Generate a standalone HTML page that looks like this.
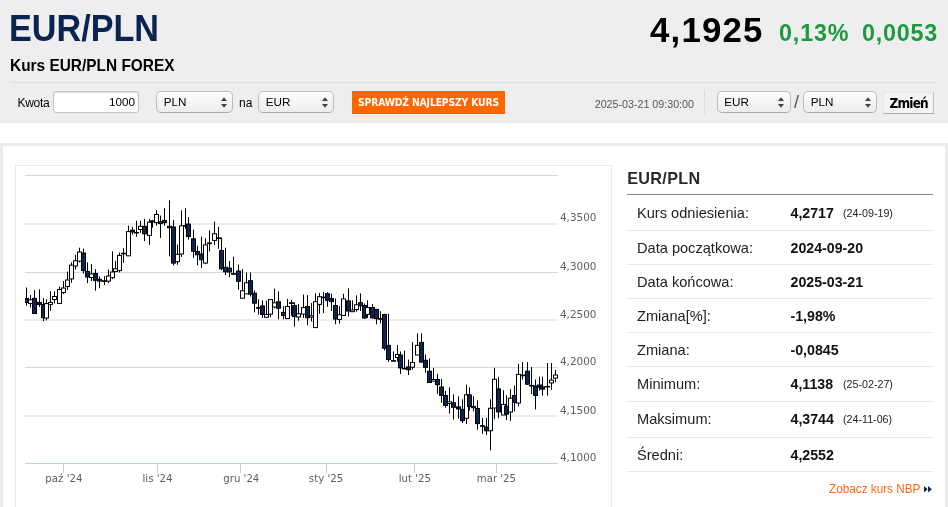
<!DOCTYPE html>
<html lang="pl">
<head>
<meta charset="utf-8">
<title>EUR/PLN - Kurs EUR/PLN FOREX</title>
<style>
html,body{margin:0;padding:0;}
body{width:948px;height:507px;overflow:hidden;background:#fff;position:relative;will-change:transform;font-family:"Liberation Sans",Arial,sans-serif;color:#000;}
.abs{position:absolute;white-space:nowrap;}
#hdr{position:absolute;left:0;top:0;width:948px;height:123px;background:#eee;}
#h1{left:8.7px;top:7.3px;font-size:36.3px;line-height:44px;font-weight:bold;color:#0a2350;transform-origin:0 0;transform:scaleX(.9415);}
#h2{left:9.9px;top:54.9px;font-size:16.5px;line-height:20px;font-weight:bold;color:#000;transform-origin:0 0;transform:scaleX(.935);}
#price{left:650px;top:7.5px;font-size:34.8px;line-height:44px;font-weight:bold;letter-spacing:1.2px;}
#chg1{left:779px;top:18.1px;font-size:23.3px;line-height:30px;font-weight:bold;color:#1b9a3e;letter-spacing:.85px;}
#chg2{left:862px;top:18.1px;font-size:23.3px;line-height:30px;font-weight:bold;color:#1b9a3e;letter-spacing:.8px;}
#hr{left:10px;top:82px;width:928px;height:1px;background:#ddd;}
.lbl{font-size:12px;line-height:14px;color:#000;}
.inp{box-sizing:border-box;background:#fff;border:1px solid #c4c4c4;border-radius:3px;box-shadow:inset 0 1px 1px rgba(0,0,0,.12);font-size:11.7px;line-height:20px;text-align:right;padding-right:3.2px;}
.sel{box-sizing:border-box;border:1px solid #bdbdbd;border-radius:5px;background:linear-gradient(#fdfdfd,#ececec);font-size:11.7px;line-height:20.6px;padding-left:6.7px;color:#000;border-bottom-color:#acacac;}
.sel svg{position:absolute;right:4.5px;top:5.3px;}
#btn{left:352px;top:90.5px;width:153px;height:23px;background:#ff6600;color:#fff;font-family:"DejaVu Sans Condensed","DejaVu Sans",sans-serif;font-stretch:condensed;font-size:10.3px;font-weight:bold;line-height:23px;text-align:center;letter-spacing:-.15px;}
#date{left:594.7px;top:97px;font-size:10.7px;line-height:14px;color:#555;}
#vsep{left:704px;top:90px;width:1px;height:25px;background:#ddd;}
#zm{left:883.2px;top:92px;width:51px;height:22px;box-sizing:border-box;background:#f4f4f4;border:1px solid #e6e6e6;border-right-color:#bbb;border-bottom-color:#aaa;font-family:"DejaVu Sans Condensed","DejaVu Sans",sans-serif;font-stretch:condensed;font-weight:bold;font-size:13.5px;letter-spacing:-.78px;line-height:20.5px;text-align:center;color:#000;}
#panel{position:absolute;left:0;top:143px;width:948px;height:380px;box-sizing:border-box;border:3px solid #ececec;background:#fff;}
#cbox{position:absolute;left:15px;top:165px;width:597px;height:360px;box-sizing:border-box;border:1px solid #e7ebee;background:#fff;}
#chart{position:absolute;left:0;top:143px;}
#chart text{font-family:"DejaVu Sans",Verdana,sans-serif;font-size:10.2px;fill:#5e5e5e;}
#chart .yl text{font-size:10.4px;}
#t2{left:627.2px;top:168px;font-size:16.2px;line-height:20px;font-weight:bold;color:#2a2a2e;letter-spacing:.32px;}
#t2line{left:627px;top:194px;width:306px;height:1px;background:#8a8a8a;}
.row{position:absolute;left:627px;width:306px;height:34px;border-bottom:1px solid #e6e6e6;}
.row .k{position:absolute;left:10px;top:8.5px;font-size:14.6px;line-height:18px;color:#222;}
.row .v{position:absolute;left:163.5px;top:8.5px;font-size:14.2px;line-height:18px;font-weight:bold;color:#111;}
.row .s{position:absolute;left:216px;top:10.5px;font-size:10.7px;line-height:14px;color:#222;}
#nbp{left:829px;top:480.6px;font-size:12.9px;line-height:16px;color:#ff6a10;transform-origin:0 0;transform:scaleX(.911);}
</style>
</head>
<body>
<div id="hdr"></div>
<div id="h1" class="abs">EUR/PLN</div>
<div id="h2" class="abs">Kurs EUR/PLN FOREX</div>
<div id="price" class="abs">4,1925</div>
<div id="chg1" class="abs">0,13%</div>
<div id="chg2" class="abs">0,0053</div>
<div id="hr" class="abs"></div>

<div class="abs lbl" style="left:17.5px;top:96px;letter-spacing:-.3px;">Kwota</div>
<div class="abs inp" style="left:53px;top:91px;width:86.3px;height:22px;">1000</div>
<div class="abs sel" style="left:156px;top:91px;width:77px;height:21.5px;">PLN<svg width="8" height="11" viewBox="0 0 8 11"><path d="M4 .3L7 4H1zM4 10.7L1 7h6z" fill="#444"/></svg></div>
<div class="abs lbl" style="left:239px;top:96px;">na</div>
<div class="abs sel" style="left:258px;top:91px;width:76px;height:21.5px;">EUR<svg width="8" height="11" viewBox="0 0 8 11"><path d="M4 .3L7 4H1zM4 10.7L1 7h6z" fill="#444"/></svg></div>
<div id="btn" class="abs">SPRAWDŹ NAJLEPSZY KURS</div>
<div id="date" class="abs">2025-03-21 09:30:00</div>
<div id="vsep" class="abs"></div>
<div class="abs sel" style="left:716.5px;top:91px;width:74px;height:21.5px;">EUR<svg width="8" height="11" viewBox="0 0 8 11"><path d="M4 .3L7 4H1zM4 10.7L1 7h6z" fill="#444"/></svg></div>
<div class="abs" style="left:794px;top:92px;font-size:18px;line-height:20px;color:#555;">/</div>
<div class="abs sel" style="left:803px;top:91px;width:74px;height:21.5px;">PLN<svg width="8" height="11" viewBox="0 0 8 11"><path d="M4 .3L7 4H1zM4 10.7L1 7h6z" fill="#444"/></svg></div>
<div id="zm" class="abs">Zmień</div>

<div id="panel"></div>
<div id="cbox"></div>
<svg id="chart" width="620" height="364" viewBox="0 143 620 364">
<g stroke="#d8d8d8" stroke-width="1" fill="none">
<path d="M25 175.5H558M25 224H558M25 272.5H558M25 320H558M25 367.5H558M25 416H558"/>
</g>
<path d="M25 463.5H558M63.5 463.5V473M157.5 463.5V473M240.5 463.5V473M326.5 463.5V473M414.5 463.5V473M496.5 463.5V473" stroke="#c0d0e0" stroke-width="1" fill="none"/>
<clipPath id="pc"><rect x="25" y="170" width="533" height="294"/></clipPath>
<g stroke="#000" stroke-width="1" fill="none" clip-path="url(#pc)">
<path d="M26.50 287.5V305.7" />
<rect x="24.50" y="298.4" width="4.00" height="4.1" fill="#0a2552"/>
<path d="M30.50 295.0V307.5" />
<rect x="28.50" y="299.8" width="4.00" height="3.6" fill="#fff"/>
<path d="M34.50 290.2V313.5" />
<rect x="32.50" y="298.4" width="4.00" height="15.1" fill="#0a2552"/>
<path d="M39.50 289.4V306.8" />
<rect x="37.50" y="302.4" width="4.00" height="2.1" fill="#0a2552"/>
<path d="M43.50 298.1V321.2" />
<rect x="41.50" y="304.5" width="4.00" height="13.2" fill="#0a2552"/>
<path d="M46.50 299.3V320.4" />
<rect x="44.50" y="303.6" width="4.00" height="14.4" fill="#fff"/>
<path d="M50.50 291.2V310.8" />
<rect x="48.50" y="302.4" width="4.00" height="2.0" fill="#fff"/>
<path d="M54.50 291.3V303.5" />
<rect x="52.50" y="296.5" width="4.00" height="3.0" fill="#fff"/>
<path d="M59.50 286.5V303.4" />
<rect x="57.50" y="289.5" width="4.00" height="13.9" fill="#fff"/>
<path d="M63.50 280.9V294.0" />
<rect x="61.50" y="288.0" width="4.00" height="4.6" fill="#fff"/>
<path d="M67.50 271.6V289.8" />
<rect x="65.50" y="280.0" width="4.00" height="6.4" fill="#fff"/>
<path d="M71.50 262.4V282.9" />
<rect x="69.50" y="265.2" width="4.00" height="13.7" fill="#fff"/>
<path d="M75.50 254.8V269.5" />
<rect x="73.50" y="260.8" width="4.00" height="5.2" fill="#fff"/>
<path d="M79.50 247.7V262.4" />
<rect x="77.50" y="252.0" width="4.00" height="9.1" fill="#fff"/>
<path d="M83.50 248.5V273.6" />
<rect x="81.50" y="253.0" width="4.00" height="17.6" fill="#0a2552"/>
<path d="M87.50 262.4V283.2" />
<rect x="85.50" y="271.5" width="4.00" height="5.5" fill="#0a2552"/>
<path d="M91.50 264.1V281.1" />
<rect x="89.50" y="273.9" width="4.00" height="3.6" fill="#fff"/>
<path d="M95.50 269.2V290.7" />
<rect x="93.50" y="273.6" width="4.00" height="6.8" fill="#0a2552"/>
<path d="M99.50 276.4V288.3" />
<rect x="97.50" y="279.3" width="4.00" height="1.8" fill="#0a2552"/>
<path d="M104.50 276.1V285.2" />
<rect x="102.50" y="280.8" width="4.00" height="0.6" fill="#0a2552"/>
<path d="M108.50 269.5V283.2" />
<rect x="106.50" y="276.0" width="4.00" height="5.1" fill="#fff"/>
<path d="M112.50 251.3V279.0" />
<rect x="110.50" y="272.0" width="4.00" height="5.7" fill="#fff"/>
<path d="M115.50 260.8V272.2" />
<rect x="113.50" y="268.8" width="4.00" height="2.7" fill="#fff"/>
<path d="M119.50 252.4V272.5" />
<rect x="117.50" y="255.4" width="4.00" height="15.2" fill="#fff"/>
<path d="M123.50 248.2V262.9" />
<rect x="121.50" y="253.3" width="4.00" height="0.6" fill="#0a2552"/>
<path d="M128.50 225.7V256.1" />
<rect x="126.50" y="231.6" width="4.00" height="24.2" fill="#fff"/>
<path d="M132.50 226.8V234.7" />
<rect x="130.50" y="230.2" width="4.00" height="1.8" fill="#0a2552"/>
<path d="M136.50 220.8V236.8" />
<rect x="134.50" y="232.4" width="4.00" height="0.6" fill="#0a2552"/>
<path d="M140.50 220.8V232.9" />
<rect x="138.50" y="226.3" width="4.00" height="3.2" fill="#fff"/>
<path d="M144.50 218.9V241.1" />
<rect x="142.50" y="226.3" width="4.00" height="7.5" fill="#0a2552"/>
<path d="M149.50 218.9V244.9" />
<rect x="147.50" y="222.2" width="4.00" height="13.2" fill="#fff"/>
<path d="M152.50 219.9V227.7" />
<rect x="150.50" y="220.8" width="4.00" height="1.0" fill="#0a2552"/>
<path d="M156.50 210.1V225.7" />
<rect x="154.50" y="214.5" width="4.00" height="8.1" fill="#fff"/>
<path d="M160.50 215.6V237.9" />
<rect x="158.50" y="221.8" width="4.00" height="1.8" fill="#0a2552"/>
<path d="M164.50 208.2V225.7" />
<rect x="162.50" y="220.4" width="4.00" height="2.2" fill="#0a2552"/>
<path d="M169.50 200.3V256.3" />
<rect x="167.50" y="226.3" width="4.00" height="1.4" fill="#0a2552"/>
<path d="M173.50 220.1V265.4" />
<rect x="171.50" y="227.0" width="4.00" height="36.1" fill="#0a2552"/>
<path d="M177.50 244.5V264.7" />
<rect x="175.50" y="254.3" width="4.00" height="7.4" fill="#fff"/>
<path d="M181.50 210.4V256.9" />
<rect x="179.50" y="225.9" width="4.00" height="28.1" fill="#fff"/>
<path d="M185.50 208.2V228.9" />
<rect x="183.50" y="225.6" width="4.00" height="0.6" fill="#0a2552"/>
<path d="M188.50 217.2V239.5" />
<rect x="186.50" y="224.1" width="4.00" height="12.4" fill="#0a2552"/>
<path d="M193.50 229.7V257.8" />
<rect x="191.50" y="238.8" width="4.00" height="12.4" fill="#0a2552"/>
<path d="M197.50 245.9V265.3" />
<rect x="195.50" y="251.5" width="4.00" height="3.3" fill="#0a2552"/>
<path d="M201.50 236.6V268.0" />
<rect x="199.50" y="254.0" width="4.00" height="5.7" fill="#0a2552"/>
<path d="M205.50 238.3V264.1" />
<rect x="203.50" y="244.9" width="4.00" height="18.2" fill="#fff"/>
<path d="M209.50 230.3V251.5" />
<rect x="207.50" y="243.0" width="4.00" height="0.6" fill="#0a2552"/>
<path d="M214.50 221.6V244.9" />
<rect x="212.50" y="233.8" width="4.00" height="6.6" fill="#fff"/>
<path d="M218.50 226.8V248.8" />
<rect x="216.50" y="237.9" width="4.00" height="0.6" fill="#0a2552"/>
<path d="M221.50 237.5V270.1" />
<rect x="219.50" y="250.6" width="4.00" height="18.2" fill="#0a2552"/>
<path d="M225.50 247.7V275.0" />
<rect x="223.50" y="267.3" width="4.00" height="4.5" fill="#0a2552"/>
<path d="M229.50 261.1V277.0" />
<rect x="227.50" y="268.1" width="4.00" height="3.8" fill="#0a2552"/>
<path d="M233.50 256.8V275.0" />
<rect x="231.50" y="273.6" width="4.00" height="0.6" fill="#0a2552"/>
<path d="M238.50 264.6V289.7" />
<rect x="236.50" y="271.1" width="4.00" height="10.2" fill="#0a2552"/>
<path d="M242.50 269.0V298.2" />
<rect x="240.50" y="290.8" width="4.00" height="7.4" fill="#fff"/>
<path d="M246.50 272.5V293.9" />
<rect x="244.50" y="282.8" width="4.00" height="11.1" fill="#fff"/>
<path d="M250.50 272.5V296.5" />
<rect x="248.50" y="280.7" width="4.00" height="13.4" fill="#0a2552"/>
<path d="M254.50 290.4V312.4" />
<rect x="252.50" y="293.2" width="4.00" height="10.0" fill="#0a2552"/>
<path d="M258.50 299.3V314.5" />
<rect x="256.50" y="307.6" width="4.00" height="0.6" fill="#0a2552"/>
<path d="M262.50 300.4V317.9" />
<rect x="260.50" y="305.9" width="4.00" height="8.5" fill="#0a2552"/>
<path d="M266.50 300.7V317.9" />
<rect x="264.50" y="314.5" width="4.00" height="2.8" fill="#fff"/>
<path d="M270.50 299.6V317.2" />
<rect x="268.50" y="299.6" width="4.00" height="14.5" fill="#fff"/>
<path d="M274.50 288.6V308.3" />
<rect x="272.50" y="302.8" width="4.00" height="4.2" fill="#fff"/>
<path d="M278.50 291.4V319.3" />
<rect x="276.50" y="301.8" width="4.00" height="6.5" fill="#0a2552"/>
<path d="M283.50 306.2V319.3" />
<rect x="281.50" y="312.4" width="4.00" height="3.2" fill="#0a2552"/>
<path d="M287.50 299.0V318.9" />
<rect x="285.50" y="306.5" width="4.00" height="12.1" fill="#fff"/>
<path d="M291.50 300.0V315.8" />
<rect x="289.50" y="302.8" width="4.00" height="0.6" fill="#0a2552"/>
<path d="M294.50 302.4V326.6" />
<rect x="292.50" y="305.6" width="4.00" height="11.0" fill="#0a2552"/>
<path d="M298.50 304.2V320.7" />
<rect x="296.50" y="313.8" width="4.00" height="3.2" fill="#fff"/>
<path d="M303.50 294.6V317.9" />
<rect x="301.50" y="307.6" width="4.00" height="6.5" fill="#fff"/>
<path d="M307.50 295.1V325.2" />
<rect x="305.50" y="306.4" width="4.00" height="11.3" fill="#0a2552"/>
<path d="M311.50 303.1V321.5" />
<rect x="309.50" y="315.8" width="4.00" height="1.4" fill="#fff"/>
<path d="M315.50 293.4V327.6" />
<rect x="313.50" y="301.7" width="4.00" height="25.9" fill="#fff"/>
<path d="M319.50 293.0V313.8" />
<rect x="317.50" y="296.7" width="4.00" height="7.7" fill="#fff"/>
<path d="M323.50 292.0V313.1" />
<rect x="321.50" y="297.1" width="4.00" height="0.6" fill="#0a2552"/>
<path d="M327.50 292.3V306.8" />
<rect x="325.50" y="293.7" width="4.00" height="6.6" fill="#0a2552"/>
<path d="M331.50 293.7V311.0" />
<rect x="329.50" y="298.5" width="4.00" height="3.2" fill="#0a2552"/>
<path d="M335.50 298.5V324.2" />
<rect x="333.50" y="305.5" width="4.00" height="13.5" fill="#0a2552"/>
<path d="M339.50 306.1V323.5" />
<rect x="337.50" y="314.8" width="4.00" height="4.6" fill="#fff"/>
<path d="M343.50 293.7V315.5" />
<rect x="341.50" y="298.9" width="4.00" height="16.6" fill="#fff"/>
<path d="M348.50 288.4V316.5" />
<rect x="346.50" y="300.9" width="4.00" height="10.1" fill="#0a2552"/>
<path d="M352.50 300.3V311.7" />
<rect x="350.50" y="310.0" width="4.00" height="1.7" fill="#fff"/>
<path d="M356.50 295.4V311.7" />
<rect x="354.50" y="304.8" width="4.00" height="4.8" fill="#fff"/>
<path d="M360.50 293.4V311.0" />
<rect x="358.50" y="302.7" width="4.00" height="3.2" fill="#0a2552"/>
<path d="M364.50 303.4V318.6" />
<rect x="362.50" y="305.5" width="4.00" height="12.5" fill="#0a2552"/>
<path d="M367.50 300.3V317.9" />
<rect x="365.50" y="307.5" width="4.00" height="6.9" fill="#fff"/>
<path d="M372.50 304.1V318.6" />
<rect x="370.50" y="307.5" width="4.00" height="10.4" fill="#0a2552"/>
<path d="M376.50 308.9V324.3" />
<rect x="374.50" y="309.4" width="4.00" height="9.2" fill="#0a2552"/>
<path d="M380.50 311.1V323.3" />
<rect x="378.50" y="318.7" width="4.00" height="0.6" fill="#0a2552"/>
<path d="M384.50 313.7V350.4" />
<rect x="382.50" y="314.5" width="4.00" height="33.7" fill="#0a2552"/>
<path d="M388.50 313.7V362.0" />
<rect x="386.50" y="345.4" width="4.00" height="14.2" fill="#0a2552"/>
<path d="M393.50 351.4V360.6" />
<rect x="391.50" y="360.6" width="4.00" height="0.6" fill="#0a2552"/>
<path d="M397.50 345.1V361.7" />
<rect x="395.50" y="354.5" width="4.00" height="3.0" fill="#fff"/>
<path d="M400.50 351.4V374.0" />
<rect x="398.50" y="355.0" width="4.00" height="12.9" fill="#0a2552"/>
<path d="M404.50 350.7V369.3" />
<rect x="402.50" y="368.3" width="4.00" height="0.6" fill="#0a2552"/>
<path d="M408.50 359.6V375.1" />
<rect x="406.50" y="366.9" width="4.00" height="2.8" fill="#0a2552"/>
<path d="M412.50 342.1V369.7" />
<rect x="410.50" y="362.4" width="4.00" height="4.8" fill="#fff"/>
<path d="M417.50 333.4V355.0" />
<rect x="415.50" y="345.4" width="4.00" height="9.6" fill="#fff"/>
<path d="M421.50 333.4V362.4" />
<rect x="419.50" y="342.4" width="4.00" height="19.7" fill="#0a2552"/>
<path d="M425.50 354.5V372.7" />
<rect x="423.50" y="360.3" width="4.00" height="7.0" fill="#0a2552"/>
<path d="M429.50 358.5V382.6" />
<rect x="427.50" y="371.2" width="4.00" height="11.3" fill="#0a2552"/>
<path d="M433.50 368.0V381.1" />
<rect x="431.50" y="379.5" width="4.00" height="1.6" fill="#fff"/>
<path d="M437.50 373.9V393.7" />
<rect x="435.50" y="379.5" width="4.00" height="5.2" fill="#0a2552"/>
<path d="M441.50 379.0V402.8" />
<rect x="439.50" y="387.0" width="4.00" height="8.4" fill="#0a2552"/>
<path d="M445.50 390.9V407.7" />
<rect x="443.50" y="395.6" width="4.00" height="9.8" fill="#0a2552"/>
<path d="M449.50 387.4V413.6" />
<rect x="447.50" y="401.8" width="4.00" height="1.7" fill="#fff"/>
<path d="M453.50 394.3V419.5" />
<rect x="451.50" y="402.8" width="4.00" height="4.5" fill="#0a2552"/>
<path d="M458.50 396.3V418.7" />
<rect x="456.50" y="406.9" width="4.00" height="2.1" fill="#0a2552"/>
<path d="M462.50 399.3V423.0" />
<rect x="460.50" y="409.4" width="4.00" height="11.3" fill="#0a2552"/>
<path d="M466.50 384.7V424.0" />
<rect x="464.50" y="394.8" width="4.00" height="23.5" fill="#fff"/>
<path d="M469.50 387.4V410.6" />
<rect x="467.50" y="394.9" width="4.00" height="11.5" fill="#0a2552"/>
<path d="M473.50 396.3V411.3" />
<rect x="471.50" y="406.4" width="4.00" height="1.3" fill="#0a2552"/>
<path d="M477.50 400.4V429.8" />
<rect x="475.50" y="408.5" width="4.00" height="15.1" fill="#0a2552"/>
<path d="M482.50 417.8V433.9" />
<rect x="480.50" y="425.7" width="4.00" height="0.6" fill="#0a2552"/>
<path d="M486.50 417.8V434.9" />
<rect x="484.50" y="427.1" width="4.00" height="3.7" fill="#0a2552"/>
<path d="M490.50 399.3V450.4" />
<rect x="488.50" y="408.3" width="4.00" height="22.4" fill="#fff"/>
<path d="M494.50 367.8V419.3" />
<rect x="492.50" y="379.3" width="4.00" height="28.7" fill="#fff"/>
<path d="M498.50 376.8V418.3" />
<rect x="496.50" y="388.9" width="4.00" height="23.0" fill="#0a2552"/>
<path d="M503.50 390.2V415.0" />
<rect x="501.50" y="404.4" width="4.00" height="10.6" fill="#fff"/>
<path d="M506.50 395.3V420.0" />
<rect x="504.50" y="406.2" width="4.00" height="7.9" fill="#0a2552"/>
<path d="M510.50 389.2V420.9" />
<rect x="508.50" y="398.2" width="4.00" height="13.8" fill="#fff"/>
<path d="M514.50 385.7V411.4" />
<rect x="512.50" y="395.4" width="4.00" height="7.0" fill="#0a2552"/>
<path d="M518.50 363.7V406.4" />
<rect x="516.50" y="374.4" width="4.00" height="28.6" fill="#fff"/>
<path d="M522.50 362.1V379.5" />
<rect x="520.50" y="375.1" width="4.00" height="0.6" fill="#0a2552"/>
<path d="M527.50 362.1V385.0" />
<rect x="525.50" y="371.2" width="4.00" height="13.0" fill="#0a2552"/>
<path d="M531.50 367.1V394.0" />
<rect x="529.50" y="385.4" width="4.00" height="0.6" fill="#0a2552"/>
<path d="M535.50 379.5V409.4" />
<rect x="533.50" y="386.0" width="4.00" height="9.4" fill="#0a2552"/>
<path d="M539.50 376.7V390.5" />
<rect x="537.50" y="385.0" width="4.00" height="2.3" fill="#0a2552"/>
<path d="M542.50 376.7V395.6" />
<rect x="540.50" y="386.8" width="4.00" height="2.3" fill="#0a2552"/>
<path d="M547.50 363.0V395.6" />
<rect x="545.50" y="386.4" width="4.00" height="0.6" fill="#0a2552"/>
<path d="M551.50 363.0V389.8" />
<rect x="549.50" y="380.1" width="4.00" height="2.8" fill="#fff"/>
<path d="M555.50 369.8V382.3" />
<rect x="553.50" y="375.0" width="4.00" height="3.1" fill="#fff"/>
</g>
<g class="yl" text-anchor="start">
<text x="560" y="221.4">4,3500</text>
<text x="560" y="269.8">4,3000</text>
<text x="560" y="317.6">4,2500</text>
<text x="560" y="365.2">4,2000</text>
<text x="560" y="413.6">4,1500</text>
<text x="560" y="461.4">4,1000</text>
</g>
<g text-anchor="middle">
<text x="63.9" y="481.7">paź '24</text>
<text x="157.5" y="481.7">lis '24</text>
<text x="241.3" y="481.7">gru '24</text>
<text x="326" y="481.7">sty '25</text>
<text x="414.8" y="481.7">lut '25</text>
<text x="496.4" y="481.7">mar '25</text>
</g>
</svg>

<div id="t2" class="abs">EUR/PLN</div>
<div id="t2line" class="abs"></div>
<div class="row" style="top:195.5px;"><span class="k abs">Kurs odniesienia:</span><span class="v abs">4,2717</span><span class="s abs">(24-09-19)</span></div>
<div class="row" style="top:230px;"><span class="k abs">Data początkowa:</span><span class="v abs">2024-09-20</span></div>
<div class="row" style="top:264px;"><span class="k abs">Data końcowa:</span><span class="v abs">2025-03-21</span></div>
<div class="row" style="top:298px;"><span class="k abs">Zmiana[%]:</span><span class="v abs">-1,98%</span></div>
<div class="row" style="top:332px;"><span class="k abs">Zmiana:</span><span class="v abs">-0,0845</span></div>
<div class="row" style="top:366.5px;"><span class="k abs">Minimum:</span><span class="v abs">4,1138</span><span class="s abs">(25-02-27)</span></div>
<div class="row" style="top:401.5px;height:35px;"><span class="k abs">Maksimum:</span><span class="v abs">4,3744</span><span class="s abs">(24-11-06)</span></div>
<div class="row" style="top:437px;"><span class="k abs">Średni:</span><span class="v abs">4,2552</span></div>
<div id="nbp" class="abs">Zobacz kurs NBP <svg width="9.5" height="6.5" viewBox="0 0 10 7" style="margin-left:.3px;"><path d="M0 0L4.5 3.5 0 7zM5 0l4.5 3.5L5 7z" fill="#0a2350"/></svg></div>
</body>
</html>
